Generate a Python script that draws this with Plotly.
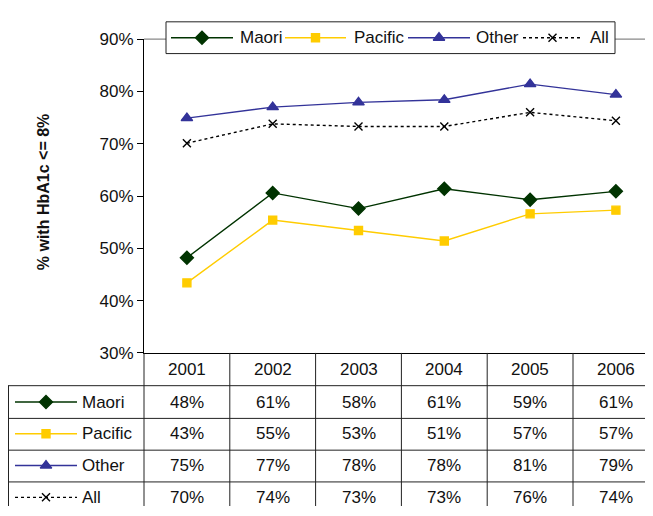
import plotly.graph_objects as go

# ---- data ----
years = ["2001", "2002", "2003", "2004", "2005", "2006"]
maori = [48.2, 60.6, 57.6, 61.4, 59.3, 60.9]
pacific = [43.4, 55.4, 53.4, 51.4, 56.6, 57.3]
other = [74.9, 77.0, 77.9, 78.4, 81.4, 79.4]
all_groups = [70.1, 73.8, 73.3, 73.3, 76.0, 74.4]
series_names = ["Maori", "Pacific", "Other", "All"]
y_ticks = [30, 40, 50, 60, 70, 80, 90]
y_tick_labels = [f"{v}%" for v in y_ticks]

# ---- layout helpers ----
# the page body has an 8px default margin; the figure is sized so that it
# fills the 653x516 window from that offset
OFF = 8
W, H = 653 - OFF, 516 - OFF
FONT = "Liberation Sans, Arial, sans-serif"
FS = 17
TXT = "#111111"
def px(x):
    return (x - OFF) / W
def py(y):
    return 1 - (y - OFF) / H

plot_left, plot_top, plot_bottom = 144, 31, 357
colw = 85.8
x_range = [-0.5, -0.5 + (653 - plot_left) / colw]

styles = {
    "Maori": dict(color="#003300", symbol="diamond", size=10, dash="solid"),
    "Pacific": dict(color="#FFCC00", symbol="square", size=8, dash="solid"),
    "Other": dict(color="#333399", symbol="triangle-up", size=10, dash="solid"),
    "All": dict(color="#000000", symbol="x-thin", size=8, dash="3px,3px"),
}
values = {"Maori": maori, "Pacific": pacific, "Other": other, "All": all_groups}

fig = go.Figure()
for name in series_names:
    s = styles[name]
    fig.add_trace(go.Scatter(
        x=list(range(len(years))), y=values[name], name=name, mode="lines+markers",
        line=dict(color=s["color"], width=1.4, dash=s["dash"]),
        marker=dict(symbol=s["symbol"], size=s["size"], color=s["color"],
                    line=dict(color=s["color"], width=1.4)),
        xaxis="x", yaxis="y", showlegend=False,
    ))

shapes = []
annotations = []

# top border of plot area (beneath legend box)
shapes.append(dict(type="line", xref="paper", yref="paper", layer="below",
                   x0=px(plot_left), x1=1, y0=py(plot_top), y1=py(plot_top),
                   line=dict(color="#888888", width=1.2)))

# ---- legend (drawn manually) ----
shapes.append(dict(type="rect", xref="paper", yref="paper", layer="below",
                   x0=px(166), x1=px(615), y0=py(13), y1=py(46),
                   fillcolor="white", line=dict(color="#222222", width=1)))
legend_items = [  # line start, line end, text x
    (171, 233, 238),
    (285, 346, 352),
    (408, 470, 474),
    (523, 582, 588),
]
leg_y = py(29.5)

def add_key(name, x0, x1, y, text_x):
    s = styles[name]
    shapes.append(dict(type="line", xref="paper", yref="paper",
                       x0=px(x0), x1=px(x1), y0=y, y1=y,
                       line=dict(color=s["color"], width=1.4, dash=s["dash"])))
    fig.add_trace(go.Scatter(
        x=[px((x0 + x1) / 2)], y=[y], mode="markers", showlegend=False,
        hoverinfo="skip",
        marker=dict(symbol=s["symbol"], size=s["size"], color=s["color"],
                    line=dict(color=s["color"], width=1.4)),
        xaxis="x2", yaxis="y2",
    ))
    annotations.append(dict(x=px(text_x), xref="paper", y=y, yref="paper",
                            text=name, showarrow=False, xanchor="left",
                            yanchor="middle",
                            font=dict(family=FONT, size=FS, color=TXT)))

for name, (x0, x1, tx) in zip(series_names, legend_items):
    add_key(name, x0, x1, leg_y, tx)

# ---- data table ----
row_edges = [357, 391, 425, 458, 491]
row_centers = [408, 441, 474, 507]
header_center = 374

def col_edge_paper(i):
    return px(plot_left + i * colw)

def col_center_paper(j):
    return px(plot_left + (j + 0.5) * colw)

for ye in row_edges[1:]:
    shapes.append(dict(type="line", xref="paper", yref="paper",
                       x0=px(8), x1=1, y0=py(ye), y1=py(ye),
                       line=dict(color="#222222", width=1)))
for i in range(0, 7):
    shapes.append(dict(type="line", xref="paper", yref="paper",
                       x0=col_edge_paper(i), x1=col_edge_paper(i),
                       y0=py(plot_bottom), y1=0,
                       line=dict(color="#222222", width=1)))
shapes.append(dict(type="line", xref="paper", yref="paper",
                   x0=px(8.5), x1=px(8.5), y0=py(391), y1=0,
                   line=dict(color="#222222", width=1)))

for j, yr in enumerate(years):
    annotations.append(dict(x=col_center_paper(j), xref="paper",
                            y=py(header_center), yref="paper",
                            xanchor="center", yanchor="middle",
                            text=yr, showarrow=False,
                            font=dict(family=FONT, size=FS, color=TXT)))

for r, name in enumerate(series_names):
    yc = py(row_centers[r])
    for j, yr in enumerate(years):
        annotations.append(dict(x=col_center_paper(j), xref="paper", y=yc, yref="paper",
                                xanchor="center", yanchor="middle",
                                text=f"{round(values[name][j])}%", showarrow=False,
                                font=dict(family=FONT, size=FS, color=TXT)))
    add_key(name, 15, 77, yc, 80)

annotations.append(dict(x=px(43), xref="paper", y=py(190), yref="paper",
                        xanchor="center", yanchor="middle",
                        text="<b>% with HbA1c &lt;= 8%</b>", textangle=-90,
                        showarrow=False,
                        font=dict(family=FONT, size=16, color=TXT)))

fig.update_layout(
    width=W, height=H,
    margin=dict(l=0, r=0, t=0, b=0),
    paper_bgcolor="white", plot_bgcolor="rgba(0,0,0,0)",
    showlegend=False,
    xaxis=dict(domain=[px(plot_left), 1], range=x_range,
               tickvals=list(range(len(years))), ticktext=years,
               showticklabels=False, ticks="", showgrid=False, zeroline=False,
               showline=True, linecolor="#000000", linewidth=1),
    yaxis=dict(domain=[py(plot_bottom), py(plot_top)], range=[30, 90],
               tickvals=y_ticks, ticktext=y_tick_labels,
               ticks="outside", ticklen=6,
               tickcolor="#000000", showgrid=False, zeroline=False,
               showline=True, linecolor="#000000", linewidth=1,
               tickfont=dict(family=FONT, size=FS, color=TXT)),
    xaxis2=dict(domain=[0, 1], range=[0, 1], visible=False, anchor="y2"),
    yaxis2=dict(domain=[0, 1], range=[0, 1], visible=False, anchor="x2"),
    shapes=shapes,
    annotations=annotations,
)

fig.write_html("out.html", config={"displayModeBar": False})
